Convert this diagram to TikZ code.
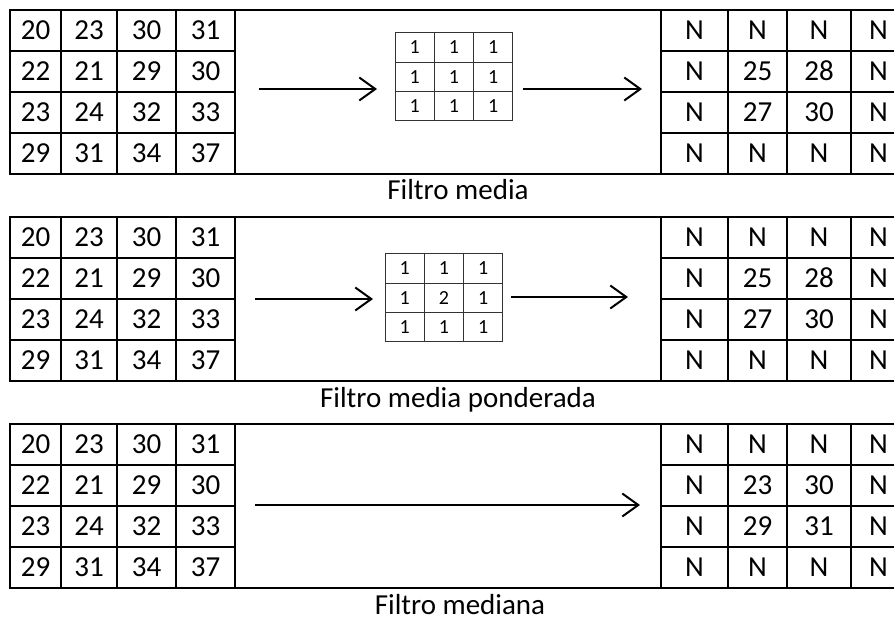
\documentclass[tikz,border=0pt]{standalone}
\usepackage{fontspec}
\setmainfont{Carlito}
\usetikzlibrary{arrows.meta}

\tikzset{
  gridcell/.style={draw, line width=2pt, inner sep=0pt, outer sep=0pt,
    text height=18.5pt, text depth=0pt, font=\fontsize{29}{32}\selectfont},
  kcell/.style={draw=black!80, line width=1pt, inner sep=0pt, outer sep=0pt,
    text height=12.6pt, text depth=0pt,
    minimum width=39.3pt, minimum height=29.3pt, font=\fontsize{20}{22}\selectfont},
  caption/.style={anchor=base, inner sep=0pt, font=\fontsize{29}{32}\selectfont},
  arr/.style={line width=2pt, -{Straight Barb[length=16pt,width=23pt,line width=2pt]}}
}

% one 4x4 table on each side with a merged middle cell
% #1 name, #2 top edge, #3 left values, #4 right values
\newcommand\filterpanel[4]{%
  \foreach \row [count=\i] in {#3} {
    \foreach \v [count=\j] in \row {
      \pgfmathsetmacro\xa{{10,61,117,176,235}[\j-1]}
      \pgfmathsetmacro\xb{{10,61,117,176,235}[\j]}
      \node[gridcell, minimum width={(\xb-\xa)*1pt}, minimum height=41pt]
        (#1-L-\i-\j) at ({(\xa+\xb)/2},{#2+(\i-0.5)*41}) {\v};
    }
  }
  \foreach \row [count=\i] in {#4} {
    \foreach \v [count=\j] in \row {
      \pgfmathsetmacro\xa{{661,728,787,851,906}[\j-1]}
      \pgfmathsetmacro\xb{{661,728,787,851,906}[\j]}
      \node[gridcell, minimum width={(\xb-\xa)*1pt}, minimum height=41pt]
        (#1-R-\i-\j) at ({(\xa+\xb)/2},{#2+(\i-0.5)*41}) {\v};
    }
  }
  \node[gridcell, minimum width=426pt, minimum height=164pt]
    (#1-M) at (448,{#2+82}) {};
}

% 3x3 kernel, #1 name, #2 left, #3 top, #4 centre value
\newcommand\kernel[4]{%
  \foreach \i in {1,2,3} {
    \foreach \j in {1,2,3} {
      \node[kcell] (#1-\i-\j) at ({#2+(\j-0.5)*39.3},{#3+(\i-0.5)*29.3})
        {\ifnum\i=2 \ifnum\j=2 #4\else 1\fi\else 1\fi};
    }
  }
}

\begin{document}
\begin{tikzpicture}[x=1pt,y=-1pt]
  \useasboundingbox (0,0) rectangle (894,620);
  \clip (0,0) rectangle (894,620);

  % Filtro media
  \filterpanel{p1}{10}{{20,23,30,31},{22,21,29,30},{23,24,32,33},{29,31,34,37}}
                      {{N,N,N,N},{N,25,28,N},{N,27,30,N},{N,N,N,N}}
  \kernel{k1}{395}{33}{1}
  \coordinate (s1) at (259,89);
  \coordinate (e1) at (642,89);
  \draw[arr] (s1) -- (s1 -| k1-2-1.west) [shorten >=18pt];
  \draw[arr] (k1-2-3.east |- e1) [shorten <=10pt] -- (e1);
  \node[caption] (c1) at (458,{10+164+26}) {Filtro media};

  % Filtro media ponderada
  \filterpanel{p2}{217}{{20,23,30,31},{22,21,29,30},{23,24,32,33},{29,31,34,37}}
                       {{N,N,N,N},{N,25,28,N},{N,27,30,N},{N,N,N,N}}
  \kernel{k2}{385}{254}{2}
  \coordinate (s2) at (255,299);
  \coordinate (e2) at (628,297);
  \draw[arr] (s2) -- (s2 -| k2-2-1.west) [shorten >=12pt];
  \draw[arr] (k2-2-3.east |- e2) [shorten <=8pt] -- (e2);
  \node[caption] (c2) at (458,{217+164+26}) {Filtro media ponderada};

  % Filtro mediana
  \filterpanel{p3}{424}{{20,23,30,31},{22,21,29,30},{23,24,32,33},{29,31,34,37}}
                       {{N,N,N,N},{N,23,30,N},{N,29,31,N},{N,N,N,N}}
  \coordinate (s3) at (255,505);
  \coordinate (e3) at (640,505);
  \draw[arr] (s3) -- (e3);
  \node[caption] (c3) at (460,{424+164+26}) {Filtro mediana};
\end{tikzpicture}
\end{document}
